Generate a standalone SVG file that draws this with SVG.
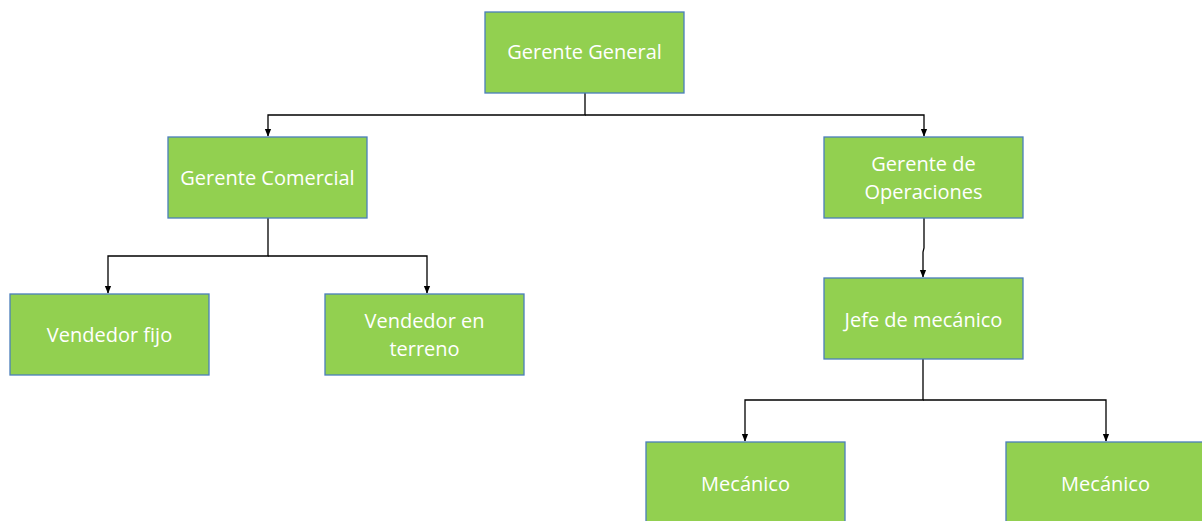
<svg xmlns="http://www.w3.org/2000/svg" width="1202" height="521" viewBox="0 0 1202 521">
<style>
.box{fill:#92D050;stroke:#4A7EBB;stroke-width:1.3}
.t{fill:#FFFFFF;font-family:"Open Sans","Liberation Sans",sans-serif;font-size:20px;text-anchor:middle}
.c{fill:none;stroke:#000;stroke-width:1.3}
</style>
<defs>
<marker id="ar" viewBox="0 0 10 10" refX="9" refY="5" markerWidth="8" markerHeight="8" markerUnits="userSpaceOnUse" orient="auto">
<path d="M0,1 L10,5 L0,9 Z" fill="#000"/>
</marker>
</defs>
<rect width="1202" height="521" fill="#fff"/>
<g id="connectors">
<path class="c" d="M585,93 V115 H268 V136" marker-end="url(#ar)"/>
<path class="c" d="M585,115 H924 V136" marker-end="url(#ar)"/>
<path class="c" d="M268,218 V256 H108 V293" marker-end="url(#ar)"/>
<path class="c" d="M268,256 H427 V293" marker-end="url(#ar)"/>
<path class="c" d="M924,218 V248 L923,252 V277" marker-end="url(#ar)"/>
<path class="c" d="M923,359 V400 H745 V441" marker-end="url(#ar)"/>
<path class="c" d="M923,400 H1106 V441" marker-end="url(#ar)"/>
</g>
<g id="gerente-general"><rect class="box" x="485" y="12" width="199" height="81"/><text class="t" x="584.5" y="59">Gerente General</text></g>
<g id="gerente-comercial"><rect class="box" x="168" y="137" width="199" height="81"/><text class="t" x="267.5" y="185">Gerente Comercial</text></g>
<g id="gerente-operaciones"><rect class="box" x="824" y="137" width="199" height="81"/><text class="t" x="923.5" y="171">Gerente de</text><text class="t" x="923.5" y="199">Operaciones</text></g>
<g id="vendedor-fijo"><rect class="box" x="10" y="294" width="199" height="81"/><text class="t" x="109.5" y="342">Vendedor fijo</text></g>
<g id="vendedor-terreno"><rect class="box" x="325" y="294" width="199" height="81"/><text class="t" x="424.5" y="328">Vendedor en</text><text class="t" x="424.5" y="356">terreno</text></g>
<g id="jefe-mecanico"><rect class="box" x="824" y="278" width="199" height="81"/><text class="t" x="923.5" y="327">Jefe de mecánico</text></g>
<g id="mecanico-1"><rect class="box" x="646" y="442" width="199" height="90"/><text class="t" x="745.5" y="491">Mecánico</text></g>
<g id="mecanico-2"><rect class="box" x="1006" y="442" width="199" height="90"/><text class="t" x="1105.5" y="491">Mecánico</text></g>
</svg>
